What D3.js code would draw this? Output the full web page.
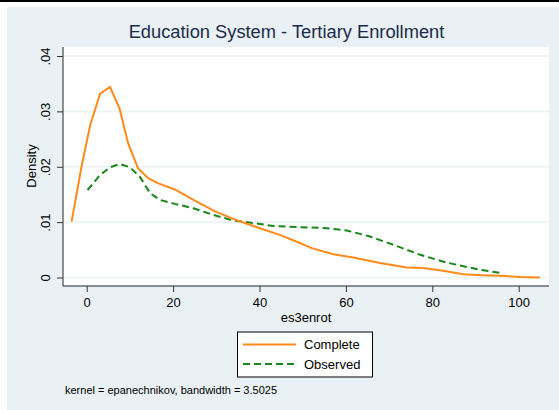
<!DOCTYPE html>
<html><head><meta charset="utf-8">
<script src="https://cdn.jsdelivr.net/npm/d3@7"></script>
<style>html,body{margin:0;padding:0;background:#fff;}svg{display:block;font-family:"Liberation Sans",Arial,sans-serif;}</style>
</head><body>
<script>
const title = "Education System - Tertiary Enrollment";
const xLabel = "es3enrot";
const yLabel = "Density";
const note = "kernel = epanechnikov, bandwidth = 3.5025";
const xTicks = [0, 20, 40, 60, 80, 100];
const yTicks = [0, 0.01, 0.02, 0.03, 0.04];
const yTickLabels = ["0", ".01", ".02", ".03", ".04"];
const seriesNames = ["Complete", "Observed"];
const completeX = [-3.5, -1.2, 0.8, 3.1, 5.4, 7.6, 9.6, 11.9, 14.3, 16.6, 20.4, 24.7, 29.6, 34.5, 40.1, 44.7, 48.5, 52.1, 57.1, 61.7, 67.9, 74.1, 77.9, 82.5, 87.2, 91.5, 95.7, 100.5, 104.9];
const completeY = [0.0101, 0.0200, 0.0275, 0.0332, 0.0344, 0.0305, 0.0242, 0.0197, 0.0179, 0.0170, 0.0159, 0.0140, 0.0120, 0.0104, 0.0089, 0.0077, 0.0065, 0.0053, 0.0042, 0.0036, 0.0026, 0.0018, 0.0017, 0.0012, 0.0006, 0.0004, 0.0003, 0.0001, 0.0];
const observedX = [0.2, 3.1, 5.4, 7.7, 10.0, 12.3, 14.7, 17.0, 20.4, 24.7, 29.3, 33.9, 38.0, 43.2, 49.4, 55.6, 60.2, 65.6, 71.0, 77.2, 83.3, 91.0, 96.1];
const observedY = [0.0158, 0.0185, 0.0199, 0.0205, 0.0199, 0.0182, 0.0152, 0.0140, 0.0133, 0.0125, 0.0113, 0.0103, 0.0099, 0.0093, 0.0091, 0.0089, 0.0085, 0.0074, 0.0059, 0.0041, 0.0027, 0.0014, 0.0008];

const W = 559, H = 410;
const svg = d3.select("body").append("svg").attr("width", W).attr("height", H);
svg.append("rect").attr("width", W).attr("height", H).attr("fill", "#fff");
svg.append("rect").attr("x", 7).attr("y", 7).attr("width", W - 7).attr("height", H - 7).attr("fill", "#e9f1f4");
svg.append("rect").attr("x", 0).attr("y", 0).attr("width", W).attr("height", 2).attr("fill", "#000");

const plot = {l: 63, r: 549, t: 47, b: 286};
svg.append("rect").attr("x", plot.l).attr("y", plot.t).attr("width", plot.r - plot.l).attr("height", plot.b - plot.t).attr("fill", "#fff");

const x = d3.scaleLinear().domain([0, 100]).range([86.7, 518.7]);
const y = d3.scaleLinear().domain([0, 0.04]).range([277.5, 56]);

// gridlines
svg.append("g").selectAll("line").data(yTicks).join("line")
  .attr("x1", plot.l).attr("x2", plot.r).attr("y1", d => y(d)).attr("y2", d => y(d))
  .attr("stroke", "#eaf2f3").attr("stroke-width", 1.5);

// y axis
const yAxis = svg.append("g").attr("transform", `translate(${plot.l},0)`)
  .call(d3.axisLeft(y).tickValues(yTicks).tickSize(6).tickSizeOuter(0).tickFormat((d, i) => yTickLabels[i]));
yAxis.select(".domain").attr("d", `M0,${plot.t}V${plot.b}`).attr("stroke", "#555").attr("stroke-width", 1.3);
yAxis.selectAll(".tick line").attr("stroke", "#333");
yAxis.selectAll(".tick text").attr("font-size", 13).attr("fill", "#000").attr("font-family", "Liberation Sans, Arial, sans-serif")
  .attr("text-anchor", "middle").attr("dy", 0)
  .each(function () { d3.select(this).attr("transform", `translate(-13,0) rotate(-90)`).attr("y", 0).attr("x", 0); });

// x axis
const xAxis = svg.append("g").attr("transform", `translate(0,${plot.b})`)
  .call(d3.axisBottom(x).tickValues(xTicks).tickSize(6).tickSizeOuter(0).tickFormat(d3.format("d")));
xAxis.select(".domain").attr("d", `M${plot.l},0H${plot.r}`).attr("stroke", "#222").attr("stroke-width", 1.2);
xAxis.selectAll(".tick line").attr("stroke", "#333");
xAxis.selectAll(".tick text").attr("font-size", 13).attr("fill", "#000").attr("font-family", "Liberation Sans, Arial, sans-serif").attr("y", 21).attr("dy", 0);

// labels
svg.append("text").attr("x", 286.5).attr("y", 38).attr("text-anchor", "middle").attr("font-size", 18.3).attr("fill", "#1c2b4a").text(title);
svg.append("text").attr("x", 306).attr("y", 322).attr("text-anchor", "middle").attr("font-size", 13).attr("fill", "#000").text(xLabel);
svg.append("text").attr("transform", "translate(36,166) rotate(-90)").attr("text-anchor", "middle").attr("font-size", 13).attr("fill", "#000").text(yLabel);

// curves
const line = d3.line().x(d => x(d[0])).y(d => y(d[1]));
const cData = completeX.map((v, i) => [v, completeY[i]]);
const oData = observedX.map((v, i) => [v, observedY[i]]);
const colors = ["#ff8a1a", "#1a861a"];
svg.append("path").datum(oData).attr("d", line).attr("fill", "none").attr("stroke", colors[1]).attr("stroke-width", 2).attr("stroke-dasharray", "7,4");
svg.append("path").datum(cData).attr("d", line).attr("fill", "none").attr("stroke", colors[0]).attr("stroke-width", 2);

// legend
const lg = svg.append("g");
lg.append("rect").attr("x", 237.5).attr("y", 332).attr("width", 135).attr("height", 45).attr("fill", "#fff").attr("stroke", "#000").attr("stroke-width", 1);
seriesNames.forEach((n, i) => {
  const yy = 344.5 + i * 19.5;
  lg.append("line").attr("x1", 243).attr("x2", 296).attr("y1", yy).attr("y2", yy)
    .attr("stroke", colors[i]).attr("stroke-width", 2).attr("stroke-dasharray", i === 1 ? "7,4" : null);
  lg.append("text").attr("x", 304).attr("y", yy + 4.5).attr("font-size", 13).attr("fill", "#000").text(n);
});

svg.append("text").attr("x", 65).attr("y", 394).attr("font-size", 11).attr("fill", "#000").text(note);
</script>
</body></html>
